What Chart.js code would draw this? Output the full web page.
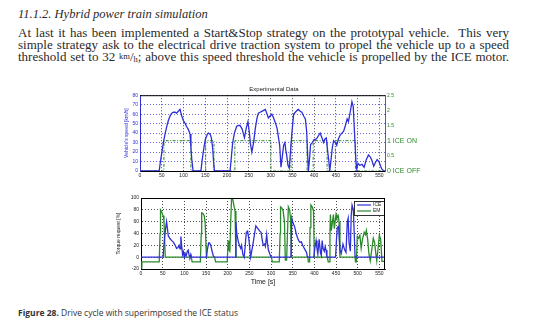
<!DOCTYPE html>
<html>
<head>
<meta charset="utf-8">
<script src="https://cdn.jsdelivr.net/npm/chart.js@4/dist/chart.umd.min.js"></script>
<style>
  body { margin: 0; width: 533px; height: 335px; background: #fff; position: relative; overflow: hidden; }
  .head { position: absolute; left: 18px; top: 7px; font: italic 12.5px 'Liberation Serif', serif; color: #2a2a2a; }
  .para { position: absolute; left: 18px; top: 27px; width: 491px; font: 13px/11.8px 'Liberation Serif', serif; color: #2a2a2a; }
  .para div { text-align: justify; text-align-last: justify; white-space: nowrap; }
  .unit { font-size: 8.5px; vertical-align: 2px; }
  .unit.low { vertical-align: -1px; }
  .caption { position: absolute; left: 18px; top: 307px; font: 8.5px 'Open Sans', sans-serif; color: #333; }
  .caption b { font-weight: 700; }
  canvas { position: absolute; }
  #speed { left: 124px; top: 84px; }
  #torque { left: 116px; top: 193px; }
</style>
</head>
<body>
<div class="head">11.1.2. Hybrid power train simulation</div>
<div class="para">
  <div>At last it has been implemented a Start&amp;Stop strategy on the prototypal vehicle.&nbsp; This very</div>
  <div>simple strategy ask to the electrical drive traction system to propel the vehicle up to a speed</div>
  <div>threshold set to 32&nbsp;<span class="unit">km</span>/<span class="unit low">h</span>; above this speed threshold the vehicle is propelled by the ICE motor.</div>
</div>
<canvas id="speed" width="300" height="96"></canvas>
<canvas id="torque" width="273" height="97"></canvas>
<div class="caption"><b>Figure 28.</b> Drive cycle with superimposed the ICE status</div>

<script>
// time axis shared by both plots [s]
var timeTicks = [0, 50, 100, 150, 200, 250, 300, 350, 400, 450, 500, 550];
var timeMax = 563;

// vehicle speed [km/h]
var speedTime = [0, 44, 47, 51, 55, 58, 61, 65, 69, 73, 77, 81, 84, 88, 92, 96, 100, 104, 107, 111, 115, 117, 119, 122,
  140, 143, 146, 150, 154, 157, 161, 164, 167, 169, 171,
  207, 210, 213, 217, 222, 226, 230, 235, 240, 244, 248, 251, 254, 257, 261, 265, 269, 272, 276, 280, 284, 288, 292, 295, 299, 303, 307, 311, 315, 318, 321, 324, 327, 330, 333, 335, 337, 340, 343,
  345, 349, 353, 357, 361, 364, 368, 372, 376, 380, 383, 385, 387,
  390, 392, 396, 400, 403, 407, 411, 414, 418, 422, 425, 428, 431, 434, 436,
  439, 442, 445, 449, 452, 456, 460, 464, 468, 472, 476, 479, 483, 487, 490, 493, 496, 498,
  501, 505, 510, 515, 520, 525, 529, 533, 537, 541, 545, 549, 553, 556, 560, 563];
var speedKmh = [0, 0, 10, 22, 33, 40, 46, 53, 58, 61, 62, 62, 61, 63, 65, 58, 53, 50, 47, 44, 39, 25, 12, 0,
  0, 12, 22, 33, 38, 40, 39, 35, 24, 10, 0,
  0, 15, 30, 40, 47, 48, 48, 44, 35, 45, 52, 42, 28, 20, 30, 45, 56, 61, 62, 63, 64, 65, 60, 56, 58, 60, 56, 51, 45, 36, 27, 4, 15, 27, 30, 22, 17, 6, 3,
  15, 40, 60, 62, 64, 65, 63, 62, 58, 55, 42, 20, 0,
  15, 28, 30, 33, 33, 35, 38, 40, 35, 30, 34, 35, 22, 10, 0,
  12, 25, 32, 30, 27, 34, 38, 40, 42, 48, 55, 52, 62, 73, 68, 40, 12, 2,
  8, 6, 7, 4, 12, 17, 15, 11, 5, 9, 12, 10, 5, 2, 0, 0];

// ICE status: 0 = off, 1 = on
var iceTime = [0, 55, 55, 117, 117, 151, 151, 170, 170, 218, 218, 301, 301, 347, 347, 384, 384, 398, 398, 430, 430, 449, 449, 495, 495, 563];
var iceState = [0, 0, 1, 1, 0, 0, 1, 1, 0, 0, 1, 1, 0, 0, 1, 1, 0, 0, 1, 1, 0, 0, 1, 1, 0, 0];

// torque request of the engine [%]
var iceTorqueTime = [0, 51, 54, 57, 59, 61, 63, 67, 71, 75, 79, 82, 85, 88, 90, 92, 94, 96, 98, 100, 102, 104, 107, 109, 111, 113, 115, 117,
  151, 153, 156, 158, 161, 164, 167, 169,
  217, 219, 221, 224, 227, 230, 232, 235, 238, 240, 243, 246, 249, 251, 253, 255, 259, 262, 265, 268, 271, 274, 277, 280, 282, 285, 287, 290, 292, 294, 297, 300,
  346, 348, 350, 352, 355, 358, 361, 364, 367, 370, 373, 376, 379, 382, 384,
  399, 401, 404, 406, 408, 411, 414, 416, 418, 420, 423, 425, 427, 429,
  449, 451, 453, 456, 459, 462, 466, 470, 473, 476, 478, 480, 483, 485, 487, 490, 492, 494, 563];
var iceTorque = [0, 0, 30, 50, 60, 48, 36, 31, 28, 25, 20, 15, 16, 20, 14, 35, 18, 4, 9, 0, 6, 2, 10, 12, 3, 0, 5, 0,
  0, 12, 24, 24, 20, 10, 2, 0,
  0, 60, 40, 28, 20, 15, 20, 5, 0, 15, 42, 44, 30, 15, 0, 8, 25, 40, 53, 50, 47, 44, 42, 28, 20, 22, 18, 38, 22, 12, 6, 0,
  0, 66, 60, 56, 50, 40, 33, 28, 25, 26, 20, 16, 12, 8, 0,
  0, 15, 28, 15, 5, 30, 8, 3, 28, 15, 10, 18, 12, 0,
  0, 30, 50, 52, 12, 6, 22, 12, 8, 60, 66, 25, 10, 70, 88, 80, 40, 0, 0];

// torque request of the electric machine [%]
var emTorqueTime = [0, 2, 42, 44, 45, 47, 49, 51, 53, 55, 56, 116, 118, 137, 139, 140, 143, 146, 148, 150, 151,
  170, 172, 199, 201, 203, 205, 207, 209, 212, 215, 217, 219,
  301, 303, 319, 321, 322, 325, 328, 331, 333, 336, 338, 340, 343, 345, 347,
  385, 386, 389, 390, 392, 395, 398, 400,
  430, 432, 434, 436, 437, 439, 441, 444, 446, 448, 450, 452, 455, 457, 459,
  494, 495, 497, 499, 502, 505, 508, 511, 515, 518, 520, 523, 526, 529, 532, 536, 539, 542, 544, 547, 550, 553, 556, 563];
var emTorque = [-18, -8, -8, 40, 80, 78, 74, 70, 62, 20, 0, 0, -8, -8, 40, 75, 74, 70, 58, 20, 0,
  0, -8, -8, 28, 12, 10, 60, 100, 97, 85, 78, 0,
  0, -8, -8, 40, 85, 83, 78, 60, -5, -5, 40, 85, 80, 65, 0,
  0, -8, -8, 50, 88, 85, 78, 0,
  0, -8, -8, 40, 72, 45, 55, 72, 48, 60, 72, 66, 70, 60, 0,
  0, -8, -8, 35, 32, 37, 15, 30, 42, 38, 45, 30, 5, -6, 10, 32, 25, 5, -6, 15, 37, 30, -7, -7];

var BLUE = '#2f2fd8';
var GREEN = '#2a8a2a';
var FONT = 'Liberation Sans';

function points(xs, ys) {
  return xs.map(function (x, i) { return { x: x, y: ys[i] }; });
}

function fixedTicks(values) {
  return function (scale) {
    scale.ticks = values.map(function (v) { return { value: v }; });
  };
}

// top and right edges of the plot box
var frame = {
  id: 'frame',
  afterDatasetsDraw: function (chart, args, opts) {
    var a = chart.chartArea, ctx = chart.ctx;
    ctx.save();
    ctx.strokeStyle = '#000';
    ctx.lineWidth = 1;
    ctx.beginPath();
    ctx.moveTo(a.left, a.top + 0.5);
    ctx.lineTo(a.right, a.top + 0.5);
    if (opts.right) {
      ctx.moveTo(a.right - 0.5, a.top);
      ctx.lineTo(a.right - 0.5, a.bottom);
    }
    ctx.stroke();
    ctx.restore();
  }
};

// boxed legend in the top right corner of the plot
var boxLegend = {
  id: 'boxLegend',
  afterDatasetsDraw: function (chart, args, opts) {
    if (!opts.show) return;
    var a = chart.chartArea, ctx = chart.ctx;
    var w = 30, h = 14, x = a.right - w - 1, y = a.top + 3;
    ctx.save();
    ctx.fillStyle = '#fff';
    ctx.fillRect(x, y, w, h);
    ctx.strokeStyle = '#000';
    ctx.lineWidth = 0.8;
    ctx.strokeRect(x + 0.5, y + 0.5, w, h);
    ctx.font = '5px ' + FONT;
    ctx.textBaseline = 'middle';
    chart.data.datasets.forEach(function (ds, i) {
      var ly = y + 4 + i * 6;
      ctx.strokeStyle = ds.borderColor;
      ctx.lineWidth = 1.2;
      ctx.beginPath();
      ctx.moveTo(x + 3, ly);
      ctx.lineTo(x + 17, ly);
      ctx.stroke();
      ctx.fillStyle = '#222';
      ctx.fillText(ds.label, x + 19, ly);
    });
    ctx.restore();
  }
};

Chart.register(frame, boxLegend);

var tickFont = { family: FONT, size: 5 };

new Chart(document.getElementById('speed'), {
  type: 'line',
  data: {
    datasets: [
      { label: 'Speed', data: points(speedTime, speedKmh), yAxisID: 'y', borderColor: BLUE, borderWidth: 1.3, pointRadius: 0, tension: 0 },
      { label: 'ICE', data: points(iceTime, iceState), yAxisID: 'y2', borderColor: GREEN, borderWidth: 1, borderDash: [3, 1.5, 1, 1.5], pointRadius: 0, tension: 0 }
    ]
  },
  options: {
    responsive: false,
    animation: false,
    events: [],
    layout: { padding: 0 },
    plugins: {
      legend: { display: false },
      tooltip: { enabled: false },
      title: { display: true, text: 'Experimental Data', color: '#222', font: { family: FONT, size: 6, weight: 'normal' }, padding: { top: 2, bottom: 2 } },
      frame: { right: false },
      boxLegend: { show: false }
    },
    scales: {
      x: {
        type: 'linear', min: 0, max: timeMax,
        afterBuildTicks: fixedTicks(timeTicks),
        afterFit: function (s) { s.height = 9; },
        ticks: { font: tickFont, color: '#222', padding: 2, maxRotation: 0, autoSkip: false },
        grid: { color: '#000', lineWidth: 0.7, drawTicks: false },
        border: { display: true, color: '#000', dash: [1, 2] }
      },
      y: {
        position: 'left', min: 0, max: 80,
        afterFit: function (s) { s.width = 16; },
        ticks: { stepSize: 10, font: tickFont, color: BLUE, padding: 2 },
        grid: { color: BLUE, lineWidth: 0.7, drawTicks: false },
        border: { display: true, color: BLUE, dash: [1, 2] },
        title: { display: true, text: "Vehicle's speed [km/h]", color: BLUE, font: { family: FONT, size: 5 }, padding: 0 }
      },
      y2: {
        position: 'right', min: 0, max: 2.5,
        afterFit: function (s) { s.width = 39; },
        ticks: {
          stepSize: 0.5, color: GREEN, padding: 2,
          font: function (c) { return { family: FONT, size: (c.tick && (c.tick.value === 0 || c.tick.value === 1)) ? 7 : 5 }; },
          callback: function (v) { return v === 1 ? '1 ICE ON' : v === 0 ? '0 ICE OFF' : String(v); }
        },
        grid: { display: false, drawTicks: false },
        border: { display: true, color: GREEN }
      }
    }
  }
});

new Chart(document.getElementById('torque'), {
  type: 'line',
  data: {
    datasets: [
      { label: 'ICE', data: points(iceTorqueTime, iceTorque), borderColor: BLUE, borderWidth: 1.3, pointRadius: 0, tension: 0 },
      { label: 'EM', data: points(emTorqueTime, emTorque), borderColor: GREEN, borderWidth: 1.3, pointRadius: 0, tension: 0 }
    ]
  },
  options: {
    responsive: false,
    animation: false,
    events: [],
    layout: { padding: { top: 4, right: 4 } },
    plugins: {
      legend: { display: false },
      tooltip: { enabled: false },
      frame: { right: true },
      boxLegend: { show: true }
    },
    scales: {
      x: {
        type: 'linear', min: 0, max: timeMax,
        afterBuildTicks: fixedTicks(timeTicks),
        afterFit: function (s) { s.height = 21; },
        ticks: { font: tickFont, color: '#222', padding: 2, maxRotation: 0, autoSkip: false },
        grid: { color: '#000', lineWidth: 0.7, drawTicks: false },
        border: { display: true, color: '#000', dash: [1, 2] },
        title: { display: true, text: 'Time [s]', color: '#222', font: { family: FONT, size: 7 }, padding: { top: 2 } }
      },
      y: {
        min: -20, max: 100,
        afterFit: function (s) { s.width = 25; },
        ticks: { stepSize: 20, font: tickFont, color: '#222', padding: 2 },
        grid: { color: '#000', lineWidth: 0.7, drawTicks: false },
        border: { display: true, color: '#000', dash: [1, 2] },
        title: { display: true, text: 'Torque request [%]', color: '#222', font: { family: FONT, size: 5 }, padding: 0 }
      }
    }
  }
});
</script>
</body>
</html>
